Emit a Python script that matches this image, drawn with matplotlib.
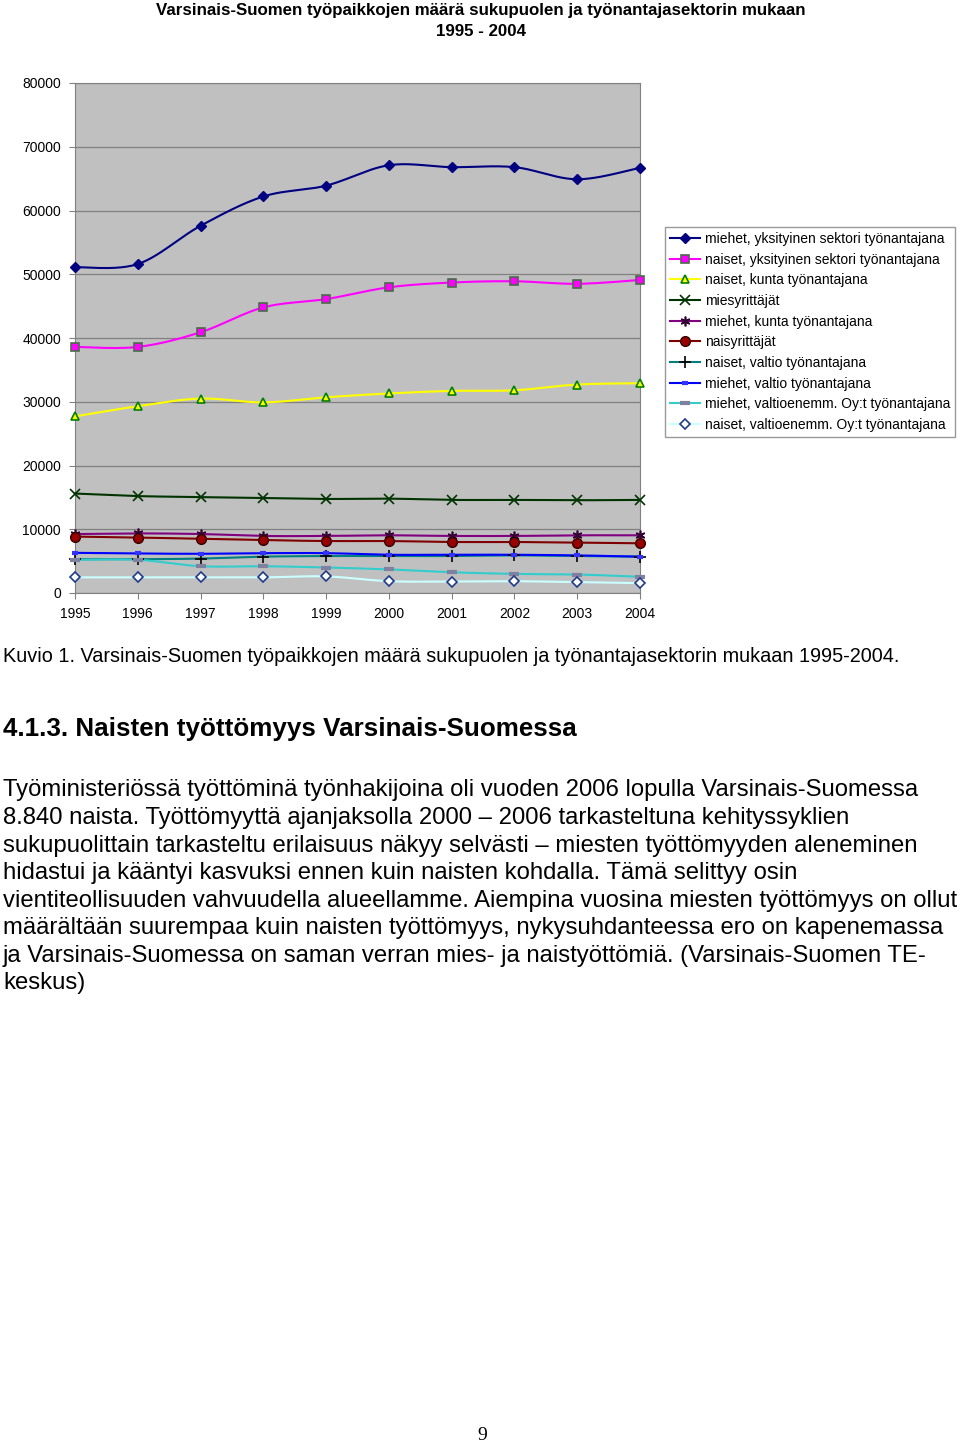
import matplotlib

matplotlib.use("Agg")
import matplotlib.pyplot as plt
import numpy as np
from matplotlib.lines import Line2D

plt.rcParams["font.family"] = ["Liberation Sans", "DejaVu Sans"]

# Data (number of jobs)
years = [1995, 1996, 1997, 1998, 1999, 2000, 2001, 2002, 2003, 2004]
labels = [
    "miehet, yksityinen sektori työnantajana",
    "naiset, yksityinen sektori työnantajana",
    "naiset, kunta työnantajana",
    "miesyrittäjät",
    "miehet, kunta työnantajana",
    "naisyrittäjät",
    "naiset, valtio työnantajana",
    "miehet, valtio työnantajana",
    "miehet, valtioenemm. Oy:t työnantajana",
    "naiset, valtioenemm. Oy:t työnantajana",
]
men_private = [51100, 51600, 57600, 62200, 63900, 67100, 66800, 66800, 64900, 66700]
women_private = [38600, 38600, 40900, 44800, 46100, 47950, 48700, 48900, 48500, 49100]
women_municipal = [27700, 29300, 30500, 29900, 30700, 31300, 31700, 31800, 32700, 32900]
men_entrepreneurs = [15600, 15200, 15060, 14900, 14750, 14800, 14600, 14600, 14550, 14600]
men_municipal = [9250, 9350, 9250, 8950, 8950, 9050, 8950, 8950, 9050, 9050]
women_entrepreneurs = [8850, 8700, 8500, 8300, 8150, 8150, 8000, 8000, 7900, 7800]
women_state = [5300, 5300, 5400, 5700, 5800, 5800, 5800, 5900, 5800, 5700]
men_state = [6300, 6200, 6150, 6250, 6250, 6000, 6000, 6000, 5900, 5700]
men_state_owned = [5200, 5200, 4200, 4200, 4000, 3700, 3250, 3000, 2900, 2550]
women_state_owned = [2450, 2450, 2450, 2450, 2600, 1850, 1800, 1850, 1700, 1550]

series = [men_private, women_private, women_municipal, men_entrepreneurs, men_municipal,
          women_entrepreneurs, women_state, men_state, men_state_owned, women_state_owned]

# line colour, marker, marker face, marker edge, marker size, marker edge width
STYLES = [
    ("#000080", "D", "#000080", "#000080", 5, 1.0),
    ("#ff00ff", "s", "#ff00ff", "#4a6b4a", 6, 1.2),
    ("#ffff00", "^", "#ffff00", "#008000", 6, 1.2),
    ("#003300", "x", "#003300", "#003300", 7, 1.2),
    ("#800080", (6, 2, 0), "#330033", "#330033", 7, 1.2),
    ("#800000", "o", "#990000", "#330000", 7, 1.0),
    ("#008080", "+", "#000000", "#000000", 8, 1.2),
    ("#0000ff", "_", "#3333ff", "#3333ff", 5, 3.0),
    ("#33cccc", "_", "#8080a0", "#8080a0", 7, 3.0),
    ("#ccffff", "D", "white", "#1f3a8a", 5, 1.2),
]


def smooth(x, y, n=24):
    """Catmull-Rom curve through the points, like Excel's smoothed lines."""
    x = np.asarray(x, float)
    y = np.asarray(y, float)
    xs, ys = [], []
    for i in range(len(x) - 1):
        i0, i3 = max(i - 1, 0), min(i + 2, len(x) - 1)
        t = np.linspace(0, 1, n, endpoint=False)
        for arr, out in ((x, xs), (y, ys)):
            p0, p1, p2, p3 = arr[i0], arr[i], arr[i + 1], arr[i3]
            out.extend(0.5 * ((2 * p1) + (-p0 + p2) * t + (2 * p0 - 5 * p1 + 4 * p2 - p3) * t**2
                              + (-p0 + 3 * p1 - 3 * p2 + p3) * t**3))
    xs.append(x[-1])
    ys.append(y[-1])
    return np.array(xs), np.array(ys)


fig = plt.figure(figsize=(9.6, 14.46), dpi=100, facecolor="white")
ax = fig.add_axes([75 / 960, 1 - 593 / 1446, 565 / 960, 510 / 1446])
ax.set_facecolor("#c0c0c0")

handles = []
for vals, lab, (lc, mk, mf, me, ms, mw) in zip(series, labels, STYLES):
    sx, sy = smooth(years, vals)
    ax.plot(sx, sy, color=lc, lw=1.5, zorder=3, clip_on=False)
    ax.plot(years, vals, ls="none", marker=mk, mfc=mf, mec=me, ms=ms, mew=mw, zorder=4, clip_on=False)
    handles.append(Line2D([], [], color=lc, lw=1.5, marker=mk, mfc=mf, mec=me, ms=ms, mew=mw))

ax.set_xlim(1995, 2004)
ax.set_ylim(0, 80000)
ax.set_xticks(years, [str(y) for y in years])
ax.set_yticks(range(0, 80001, 10000), [str(v) for v in range(0, 80001, 10000)])
ax.tick_params(labelsize=10, colors="black", length=4, color="#808080", pad=6)
ax.yaxis.grid(True, color="#808080", lw=0.9)
ax.set_axisbelow(True)
for s in ax.spines.values():
    s.set_color("#808080")

leg = ax.legend(handles, labels, loc="upper left", bbox_to_anchor=(665 / 960, 1 - 227 / 1446),
                bbox_transform=fig.transFigure, borderaxespad=0, fontsize=10, frameon=True,
                fancybox=False, edgecolor="#808080", labelspacing=0.48, handlelength=2.2,
                handletextpad=0.3, borderpad=0.35)
leg.get_frame().set_linewidth(1.0)

fig.text(481 / 960, 1 - 11 / 1446, "Varsinais-Suomen työpaikkojen määrä sukupuolen ja työnantajasektorin mukaan",
         ha="center", va="center", fontsize=12.2, fontweight="bold")
fig.text(481 / 960, 1 - 32 / 1446, "1995 - 2004", ha="center", va="center", fontsize=12.2, fontweight="bold")

fig.text(3 / 960, 1 - 657 / 1446,
         "Kuvio 1. Varsinais-Suomen työpaikkojen määrä sukupuolen ja työnantajasektorin mukaan 1995-2004.",
         ha="left", va="center", fontsize=14.3)
fig.text(3 / 960, 1 - 729 / 1446, "4.1.3. Naisten työttömyys Varsinais-Suomessa",
         ha="left", va="center", fontsize=18.7, fontweight="bold")

body = [
    "Työministeriössä työttöminä työnhakijoina oli vuoden 2006 lopulla Varsinais-Suomessa",
    "8.840 naista. Työttömyyttä ajanjaksolla 2000 – 2006 tarkasteltuna kehityssyklien",
    "sukupuolittain tarkasteltu erilaisuus näkyy selvästi – miesten työttömyyden aleneminen",
    "hidastui ja kääntyi kasvuksi ennen kuin naisten kohdalla. Tämä selittyy osin",
    "vientiteollisuuden vahvuudella alueellamme. Aiempina vuosina miesten työttömyys on ollut",
    "määrältään suurempaa kuin naisten työttömyys, nykysuhdanteessa ero on kapenemassa",
    "ja Varsinais-Suomessa on saman verran mies- ja naistyöttömiä. (Varsinais-Suomen TE-",
    "keskus)",
]
body_y = [790, 818, 846, 873, 901, 928, 956, 983]
for line, y in zip(body, body_y):
    fig.text(3 / 960, 1 - y / 1446, line, ha="left", va="center", fontsize=17.2)

fig.text(482 / 960, 1 - 1436 / 1446, "9", ha="center", va="center", fontsize=14,
         family=["Liberation Serif", "DejaVu Serif"])

fig.savefig("out.png", dpi=100)
